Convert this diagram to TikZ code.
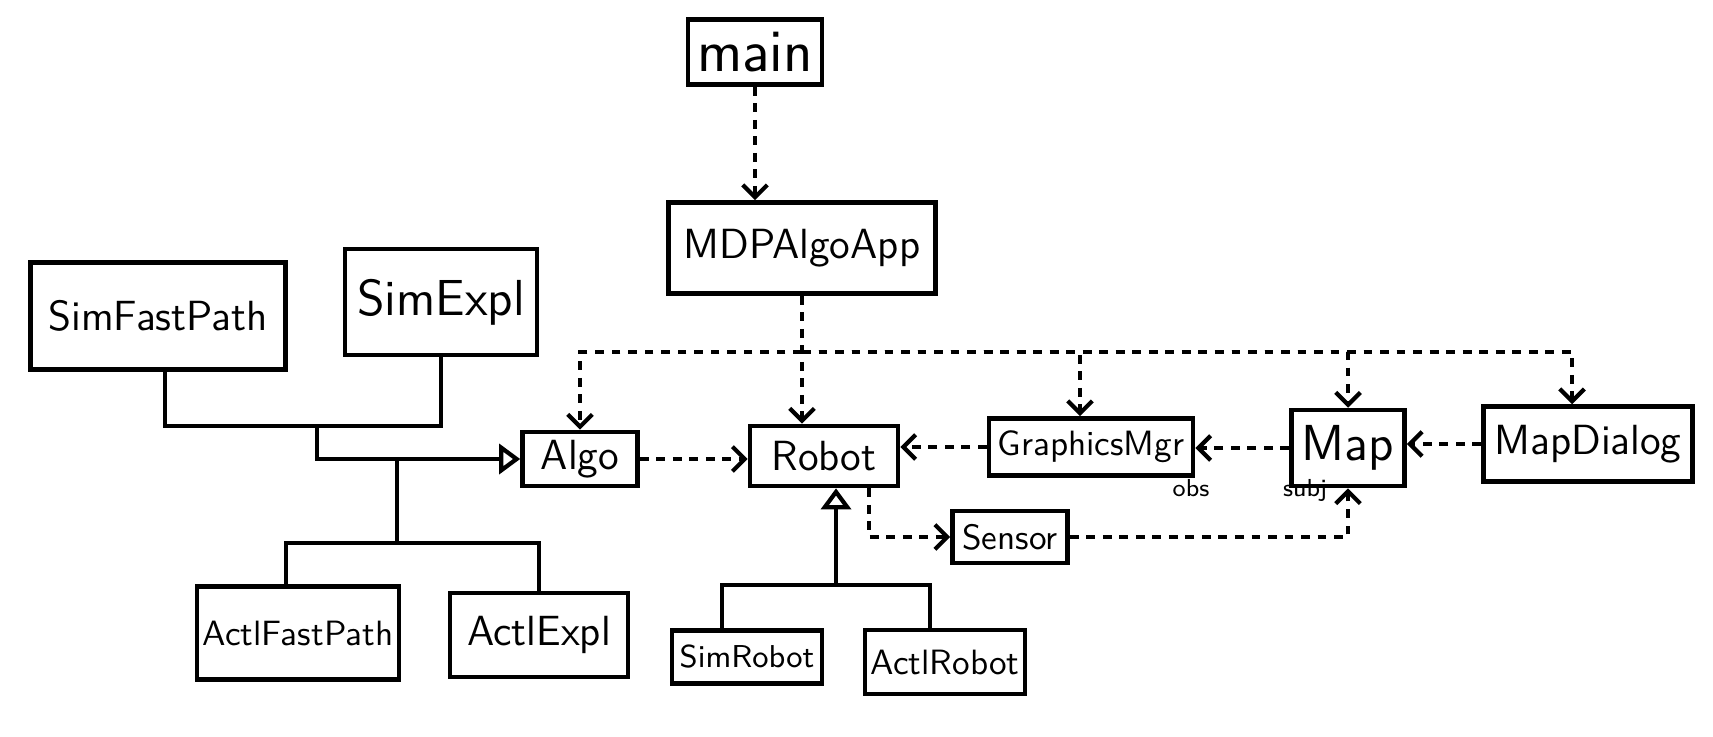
\documentclass[tikz,border=0pt]{standalone}
\usetikzlibrary{arrows.meta}
\begin{document}
\begin{tikzpicture}[
  font=\sffamily\large,
  cls/.style={draw, line width=1.3pt, inner sep=1pt},
  dep/.style={line width=1.2pt, dash pattern=on 2.5pt off 2.2pt, -{Straight Barb[length=3.5pt,width=7pt]}},
  gen/.style={line width=1.2pt},
  isa/.style={gen, -{Triangle[open,length=6pt,width=8.5pt]}},
  note/.style={font=\sffamily\scriptsize}
]
\useasboundingbox (0,0) rectangle (17.13,-7.36);
% クラス(座標で配置)
\node[cls, minimum width=1.34cm, minimum height=0.65cm, font=\sffamily\LARGE] (main)      at (7.55,-0.52)  {main};
\node[cls, minimum width=2.67cm, minimum height=0.91cm]                       (app)       at (8.02,-2.48)  {MDPAlgoApp};
\node[cls, minimum width=2.55cm, minimum height=1.07cm]                       (sfp)       at (1.58,-3.16)  {SimFastPath};
\node[cls, minimum width=1.92cm, minimum height=1.06cm, font=\sffamily\Large] (sexpl)     at (4.41,-3.02)  {SimExpl};
\node[cls, minimum width=1.15cm, minimum height=0.54cm]                       (algo)      at (5.80,-4.59)  {Algo};
\node[cls, minimum width=1.48cm, minimum height=0.60cm]                       (robot)     at (8.24,-4.56)  {Robot};
\node[cls, minimum width=2.04cm, minimum height=0.57cm, font=\sffamily]       (gmgr)      at (10.91,-4.47) {GraphicsMgr};
\node[cls, minimum width=1.13cm, minimum height=0.76cm, font=\sffamily\Large] (map)       at (13.48,-4.48) {Map};
\node[cls, minimum width=2.09cm, minimum height=0.75cm]                       (mapdlg)    at (15.88,-4.44) {MapDialog};
\node[cls, minimum width=1.15cm, minimum height=0.52cm, font=\sffamily]       (sensor)    at (10.10,-5.37) {Sensor};
\node[cls, minimum width=2.02cm, minimum height=0.93cm, font=\sffamily]       (afp)       at (2.98,-6.33)  {ActlFastPath};
\node[cls, minimum width=1.78cm, minimum height=0.84cm]                       (aexpl)     at (5.39,-6.35)  {ActlExpl};
\node[cls, minimum width=1.50cm, minimum height=0.53cm, font=\sffamily\small] (simrobot)  at (7.47,-6.57)  {SimRobot};
\node[cls, minimum width=1.60cm, minimum height=0.64cm, font=\sffamily]       (actlrobot) at (9.45,-6.62)  {ActlRobot};

% 依存(点線)
\coordinate (bus) at (8.02,-3.52);
\draw[dep] (main.south) -- (main.south |- app.north);
\draw[dep] (app.south) -- (app.south |- robot.north);
\draw[dep] (bus) -| (algo.north);
\draw[dep] (bus) -| ([xshift=-1.1mm]gmgr.north);
\draw[dep] (bus) -| (map.north);
\draw[dep] (bus) -| ([xshift=-1.6mm]mapdlg.north);
\draw[dep] (algo.east) -- (algo.east -| robot.west);
\draw[dep] (gmgr.west) -- (gmgr.west -| robot.east);
\draw[dep] (map.west) -- (map.west -| gmgr.east);
\draw[dep] (mapdlg.west) -- (mapdlg.west -| map.east);
\draw[dep] ([xshift=4.5mm]robot.south) |- (sensor.west);
\draw[dep] (sensor.east) -| (map.south);

% 継承
\coordinate (simjoin)   at (3.17,-4.26);
\coordinate (actljoin)  at (3.97,-5.43);
\coordinate (robotjoin) at (8.36,-5.85);
\draw[gen] ([xshift=0.7mm]sfp.south) |- (simjoin -| sexpl.south) -- (sexpl.south);
\draw[isa] (simjoin) |- (algo.west);
\draw[gen] (actljoin |- algo.west) -- (actljoin);
\draw[gen] ([xshift=-1.2mm]afp.north) |- (actljoin) -| (aexpl.north);
\draw[isa] (robotjoin) -- (robotjoin |- robot.south);
\draw[gen] ([xshift=-2.5mm]simrobot.north) |- (robotjoin) -| ([xshift=-1.5mm]actlrobot.north);

% 注記
\node[note] (obs)  at (11.91,-4.88) {obs};
\node[note] (subj) at (13.05,-4.90) {subj};
\end{tikzpicture}
\end{document}
